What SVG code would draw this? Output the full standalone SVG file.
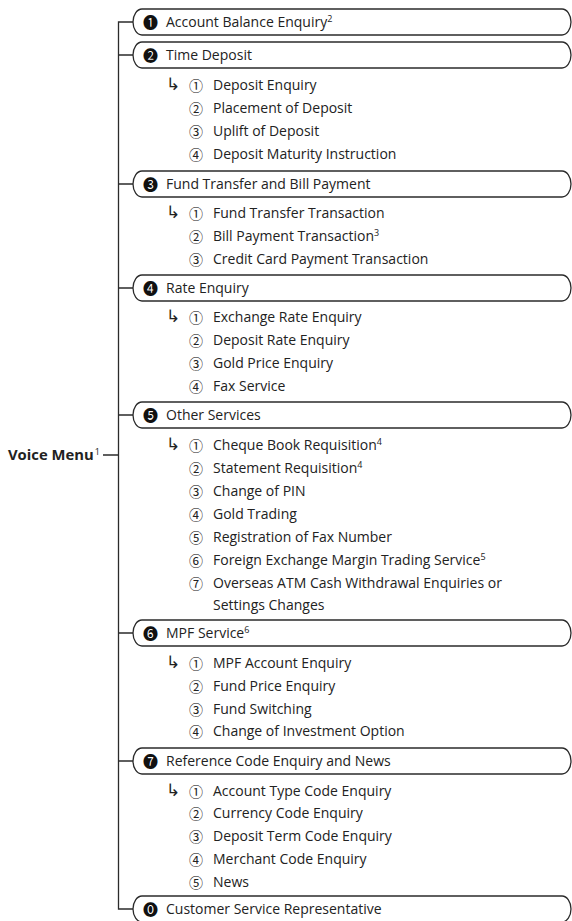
<svg xmlns="http://www.w3.org/2000/svg" width="572" height="921" viewBox="0 0 572 921">
<style>
.bg{fill:#fff}
.pill{fill:#fff;stroke:#2b2b2b;stroke-width:1.3}
.ln{fill:none;stroke:#2b2b2b;stroke-width:1.3}
.t{font-family:"Open Sans","DejaVu Sans",sans-serif;font-size:14px;fill:#222}
.sym{font-family:"Noto Sans CJK JP","DejaVu Sans",sans-serif;font-size:14px;fill:#222;text-anchor:middle}
.neg{font-family:"Noto Sans CJK JP","DejaVu Sans",sans-serif;font-size:15px;fill:#111;text-anchor:middle}
.arr{font-family:"DejaVu Sans",sans-serif;font-size:17px;fill:#222}
.sup{font-size:9px}
.vm{font-family:"Open Sans","DejaVu Sans",sans-serif;font-size:14.8px;font-weight:bold;fill:#222}
</style>
<rect class="bg" x="0" y="0" width="572" height="921"/>
<g id="connectors">
<path class="ln" d="M133,22 H118.5 V909 H133"/>
<path class="ln" d="M118.5,55 H133 M118.5,184 H133 M118.5,288 H133 M118.5,415 H133 M118.5,633 H133 M118.5,761 H133 M103,455 H118.5"/>
</g>
<g id="root"><text class="vm" x="8" y="460">Voice Menu<tspan class="sup" font-weight="normal" dx="1" dy="-5">1</tspan></text></g>
<g id="n1"><rect class="pill" x="133" y="9" width="438" height="26" rx="9" ry="13"/><text class="neg" x="150.5" y="27.5">❶</text><text class="t" x="166" y="27">Account Balance Enquiry<tspan class="sup" dy="-5">2</tspan></text></g>
<g id="n2"><rect class="pill" x="133" y="42" width="438" height="26" rx="9" ry="13"/><text class="neg" x="150.5" y="60.5">❷</text><text class="t" x="166" y="60">Time Deposit</text>
<text class="arr" x="166" y="90">↳</text>
<text class="sym" x="196" y="90.5">①</text><text class="t" x="213" y="90">Deposit Enquiry</text>
<text class="sym" x="196" y="113.5">②</text><text class="t" x="213" y="113">Placement of Deposit</text>
<text class="sym" x="196" y="136.5">③</text><text class="t" x="213" y="136">Uplift of Deposit</text>
<text class="sym" x="196" y="159.5">④</text><text class="t" x="213" y="159">Deposit Maturity Instruction</text></g>
<g id="n3"><rect class="pill" x="133" y="171" width="438" height="26" rx="9" ry="13"/><text class="neg" x="150.5" y="189.5">❸</text><text class="t" x="166" y="189">Fund Transfer and Bill Payment</text>
<text class="arr" x="166" y="218">↳</text>
<text class="sym" x="196" y="218.5">①</text><text class="t" x="213" y="218">Fund Transfer Transaction</text>
<text class="sym" x="196" y="241.5">②</text><text class="t" x="213" y="241">Bill Payment Transaction<tspan class="sup" dy="-5">3</tspan></text>
<text class="sym" x="196" y="264.5">③</text><text class="t" x="213" y="264">Credit Card Payment Transaction</text></g>
<g id="n4"><rect class="pill" x="133" y="275" width="438" height="26" rx="9" ry="13"/><text class="neg" x="150.5" y="293.5">❹</text><text class="t" x="166" y="293">Rate Enquiry</text>
<text class="arr" x="166" y="322">↳</text>
<text class="sym" x="196" y="322.5">①</text><text class="t" x="213" y="322">Exchange Rate Enquiry</text>
<text class="sym" x="196" y="345.5">②</text><text class="t" x="213" y="345">Deposit Rate Enquiry</text>
<text class="sym" x="196" y="368.5">③</text><text class="t" x="213" y="368">Gold Price Enquiry</text>
<text class="sym" x="196" y="391.5">④</text><text class="t" x="213" y="391">Fax Service</text></g>
<g id="n5"><rect class="pill" x="133" y="402" width="438" height="26" rx="9" ry="13"/><text class="neg" x="150.5" y="420.5">❺</text><text class="t" x="166" y="420">Other Services</text>
<text class="arr" x="166" y="450">↳</text>
<text class="sym" x="196" y="450.5">①</text><text class="t" x="213" y="450">Cheque Book Requisition<tspan class="sup" dy="-5">4</tspan></text>
<text class="sym" x="196" y="473.5">②</text><text class="t" x="213" y="473">Statement Requisition<tspan class="sup" dy="-5">4</tspan></text>
<text class="sym" x="196" y="496.5">③</text><text class="t" x="213" y="496">Change of PIN</text>
<text class="sym" x="196" y="519.5">④</text><text class="t" x="213" y="519">Gold Trading</text>
<text class="sym" x="196" y="542.5">⑤</text><text class="t" x="213" y="542">Registration of Fax Number</text>
<text class="sym" x="196" y="565.5">⑥</text><text class="t" x="213" y="565">Foreign Exchange Margin Trading Service<tspan class="sup" dy="-5">5</tspan></text>
<text class="sym" x="196" y="588.5">⑦</text><text class="t" x="213" y="588">Overseas ATM Cash Withdrawal Enquiries or</text>
<text class="t" x="213" y="610">Settings Changes</text></g>
<g id="n6"><rect class="pill" x="133" y="620" width="438" height="26" rx="9" ry="13"/><text class="neg" x="150.5" y="638.5">❻</text><text class="t" x="166" y="638">MPF Service<tspan class="sup" dy="-5">6</tspan></text>
<text class="arr" x="166" y="668">↳</text>
<text class="sym" x="196" y="668.5">①</text><text class="t" x="213" y="668">MPF Account Enquiry</text>
<text class="sym" x="196" y="691.5">②</text><text class="t" x="213" y="691">Fund Price Enquiry</text>
<text class="sym" x="196" y="714.5">③</text><text class="t" x="213" y="714">Fund Switching</text>
<text class="sym" x="196" y="736.5">④</text><text class="t" x="213" y="736">Change of Investment Option</text></g>
<g id="n7"><rect class="pill" x="133" y="748" width="438" height="26" rx="9" ry="13"/><text class="neg" x="150.5" y="766.5">❼</text><text class="t" x="166" y="766">Reference Code Enquiry and News</text>
<text class="arr" x="166" y="796">↳</text>
<text class="sym" x="196" y="796.5">①</text><text class="t" x="213" y="796">Account Type Code Enquiry</text>
<text class="sym" x="196" y="818.5">②</text><text class="t" x="213" y="818">Currency Code Enquiry</text>
<text class="sym" x="196" y="841.5">③</text><text class="t" x="213" y="841">Deposit Term Code Enquiry</text>
<text class="sym" x="196" y="864.5">④</text><text class="t" x="213" y="864">Merchant Code Enquiry</text>
<text class="sym" x="196" y="887.5">⑤</text><text class="t" x="213" y="887">News</text></g>
<g id="n0"><rect class="pill" x="133" y="896" width="438" height="26" rx="9" ry="13"/><text class="neg" x="150.5" y="914.5">⓿</text><text class="t" x="166" y="914">Customer Service Representative</text></g>
</svg>
